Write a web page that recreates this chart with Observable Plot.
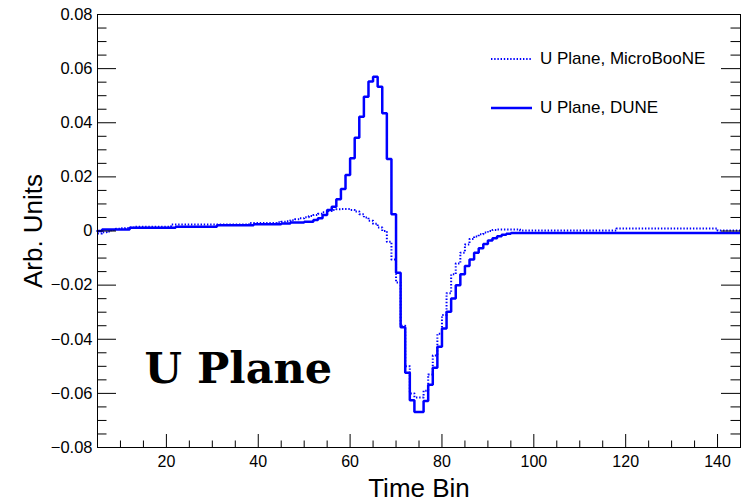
<!DOCTYPE html>
<html>
<head>
<meta charset="utf-8">
<script src="https://cdn.jsdelivr.net/npm/d3@7"></script>
<script src="https://cdn.jsdelivr.net/npm/@observablehq/plot@0.6"></script>
<style>
  html, body { margin: 0; padding: 0; background: #fff; }
  #wrap { position: relative; width: 741px; height: 502px; overflow: hidden; background: #fff;
          font-family: "Liberation Sans", Arial, Helvetica, sans-serif; }
  #wrap svg { display: block; }
  .leg { position: absolute; left: 491px; height: 28px; display: flex; align-items: center;
         font-size: 17px; color: #000; white-space: nowrap; }
  .leg svg { margin-right: 8px; }
</style>
</head>
<body>
<div id="wrap"></div>
<script>
// ---- data (bin contents, first bin = 5, unit-width bins) ----
const firstBin = 5;
const lastEdge = 145;

const duneLabel = "U Plane, DUNE";
const microLabel = "U Plane, MicroBooNE";

// U Plane, DUNE (solid) bins 5..144
const dune = [
  0.0000, 0.0006, 0.0006, 0.0006, 0.0006, 0.0006, 0.0006, 0.0012, 0.0012, 0.0012,   // 5-14
  0.0012, 0.0012, 0.0012, 0.0012, 0.0012, 0.0012, 0.0012, 0.0016, 0.0016, 0.0016,   // 15-24
  0.0016, 0.0016, 0.0016, 0.0016, 0.0016, 0.0016, 0.0021, 0.0021, 0.0021, 0.0021,   // 25-34
  0.0021, 0.0021, 0.0021, 0.0021, 0.0025, 0.0025, 0.0025, 0.0025, 0.0025, 0.0025,   // 35-44
  0.0028, 0.0028, 0.0031, 0.0031, 0.0031, 0.0034, 0.0034, 0.0041, 0.0047, 0.0059,   // 45-54
  0.0078, 0.0090, 0.0117, 0.0155, 0.0207, 0.0269, 0.0345, 0.0422, 0.0496, 0.0552,   // 55-64
  0.0570, 0.0533, 0.0435, 0.0266, 0.0062, -0.0154, -0.0356, -0.0524, -0.0625, -0.0669, // 65-74
  -0.0669, -0.0628, -0.0568, -0.0505, -0.0428, -0.0360, -0.0298, -0.0249, -0.0200, -0.0160, // 75-84
  -0.0129, -0.0105, -0.0080, -0.0064, -0.0048, -0.0035, -0.0027, -0.0019, -0.0014, -0.0010, // 85-94
  -0.0007, -0.0007, -0.0007, -0.0007, -0.0007, -0.0007, -0.0007, -0.0007, -0.0007, -0.0007, // 95-104
  -0.0007, -0.0007, -0.0007, -0.0007, -0.0007, -0.0007, -0.0007, -0.0007, -0.0007, -0.0007, // 105-114
  -0.0007, -0.0007, -0.0007, -0.0007, -0.0007, -0.0007, -0.0007, -0.0007, -0.0007, -0.0007, // 115-124
  -0.0007, -0.0007, -0.0007, -0.0007, -0.0007, -0.0007, -0.0007, -0.0007, -0.0007, -0.0007, // 125-134
  -0.0007, -0.0007, -0.0007, -0.0007, -0.0007, -0.0007, -0.0007, -0.0007, -0.0007, -0.0007  // 135-144
];

// U Plane, MicroBooNE (dotted) bins 5..144
const microboone = [
  -0.0009, -0.0005, -0.0002, 0.0004, 0.0008, 0.0010, 0.0011, 0.0013, 0.0016, 0.0016,  // 5-14
  0.0016, 0.0016, 0.0016, 0.0016, 0.0016, 0.0016, 0.0024, 0.0024, 0.0024, 0.0024,     // 15-24
  0.0024, 0.0024, 0.0024, 0.0024, 0.0024, 0.0024, 0.0024, 0.0024, 0.0024, 0.0024,     // 25-34
  0.0024, 0.0024, 0.0024, 0.0030, 0.0030, 0.0030, 0.0030, 0.0030, 0.0030, 0.0032,     // 35-44
  0.0034, 0.0036, 0.0040, 0.0043, 0.0047, 0.0051, 0.0055, 0.0059, 0.0064, 0.0069,     // 45-54
  0.0074, 0.0078, 0.0080, 0.0081, 0.0081, 0.0078, 0.0072, 0.0062, 0.0050, 0.0038,     // 55-64
  0.0027, 0.0013, 0.0000, -0.0040, -0.0105, -0.0190, -0.0350, -0.0500, -0.0600, -0.0615, // 65-74
  -0.0615, -0.0590, -0.0530, -0.0460, -0.0380, -0.0310, -0.0230, -0.0160, -0.0120, -0.0080, // 75-84
  -0.0050, -0.0030, -0.0020, -0.0012, -0.0006, 0.0000, 0.0004, 0.0006, 0.0006, 0.0006,  // 85-94
  0.0006, 0.0006, 0.0002, 0.0002, 0.0002, 0.0002, 0.0002, 0.0002, 0.0002, 0.0002,     // 95-104
  0.0002, 0.0002, 0.0002, 0.0002, 0.0002, 0.0002, 0.0002, 0.0002, 0.0002, 0.0002,     // 105-114
  0.0002, 0.0002, 0.0002, 0.0009, 0.0009, 0.0009, 0.0009, 0.0009, 0.0009, 0.0009,     // 115-124
  0.0009, 0.0009, 0.0009, 0.0009, 0.0009, 0.0009, 0.0009, 0.0009, 0.0009, 0.0009,     // 125-134
  0.0009, 0.0009, 0.0009, 0.0009, 0.0009, 0.0002, 0.0002, 0.0002, 0.0002, 0.0002      // 135-144
];

// axis ticks and labels
const xMajor = [20, 40, 60, 80, 100, 120, 140];
const xTickLabels = ["20", "40", "60", "80", "100", "120", "140"];
const xMinor = [10, 15, 25, 30, 35, 45, 50, 55, 65, 70, 75, 85, 90, 95, 105, 110, 115, 125, 130, 135];
const yMajor = [-0.08, -0.06, -0.04, -0.02, 0, 0.02, 0.04, 0.06, 0.08];
const yTickLabels = ["\u22120.08", "\u22120.06", "\u22120.04", "\u22120.02", "0", "0.02", "0.04", "0.06", "0.08"];
const yMinor = [-0.075, -0.07, -0.065, -0.055, -0.05, -0.045, -0.035, -0.03, -0.025, -0.015, -0.01, -0.005,
                0.005, 0.01, 0.015, 0.025, 0.03, 0.035, 0.045, 0.05, 0.055, 0.065, 0.07, 0.075];

const xTitle = "Time Bin";
const yTitle = "Arb. Units";
const panelText = "U Plane";

// ---- build histogram step tables ----
function steps(vals) {
  const pts = vals.map((v, i) => ({ bin: firstBin + i, v }));
  pts.push({ bin: lastEdge, v: vals[vals.length - 1] });
  return pts;
}
const duneSteps = steps(dune);
const microSteps = steps(microboone);

// ---- layout ----
const W = 741, H = 502;
const mL = 97, mR = 1, mT = 14, mB = 55;
const frameW = W - mL - mR, frameH = H - mT - mB;
const yTickLen = 19, yMinorLen = 9.5, xTickLen = 13, xMinorLen = 6.5;
const blue = "#0000ff";

const chart = Plot.plot({
  width: W, height: H,
  marginLeft: mL, marginRight: mR, marginTop: mT, marginBottom: mB,
  x: { domain: [firstBin, lastEdge] },
  y: { domain: [-0.08, 0.08] },
  style: { fontFamily: "'Liberation Sans', Arial, Helvetica, sans-serif", fontSize: "16px", background: "white", color: "black", overflow: "visible" },
  marks: [
    Plot.line(microSteps, { x: "bin", y: "v", curve: "step-after", stroke: blue, strokeWidth: 2, strokeDasharray: "1.4,1.8", strokeLinecap: "butt" }),
    Plot.line(duneSteps, { x: "bin", y: "v", curve: "step-after", stroke: blue, strokeWidth: 2.5, strokeLinejoin: "miter" }),
    Plot.frame({ stroke: "black", strokeWidth: 1 }),
    // inward ticks, left and right
    Plot.tickY(yMajor, { y: d => d, insetRight: frameW - yTickLen, stroke: "black" }),
    Plot.tickY(yMinor, { y: d => d, insetRight: frameW - yMinorLen, stroke: "black" }),
    Plot.tickY(yMajor, { y: d => d, insetLeft: frameW - yTickLen, stroke: "black" }),
    Plot.tickY(yMinor, { y: d => d, insetLeft: frameW - yMinorLen, stroke: "black" }),
    // inward ticks, bottom
    Plot.tickX(xMajor, { x: d => d, insetTop: frameH - xTickLen, stroke: "black" }),
    Plot.tickX(xMinor, { x: d => d, insetTop: frameH - xMinorLen, stroke: "black" }),
    Plot.axisY({ ticks: yMajor, tickSize: 0, tickPadding: 5, label: null,
                 tickFormat: d => yTickLabels[yMajor.indexOf(d)], fontSize: 16.5 }),
    Plot.axisX({ ticks: xMajor, tickSize: 0, tickPadding: 8, label: null,
                 tickFormat: d => xTickLabels[xMajor.indexOf(d)], fontSize: 16 }),
    Plot.text([yTitle], { text: d => d, frameAnchor: "left", rotate: -90, dx: -64, fontSize: 26,
                          textAnchor: "middle", lineAnchor: "middle" }),
    Plot.text([xTitle], { text: d => d, frameAnchor: "bottom", dy: 41, fontSize: 26,
                          textAnchor: "middle", lineAnchor: "middle" }),
    Plot.text([panelText], { text: d => d, frameAnchor: "top-left", dx: 47, dy: 368, fontSize: 43,
                             fontWeight: "bold", fontFamily: "'DejaVu Serif', serif",
                             textAnchor: "start", lineAnchor: "bottom" })
  ]
});

const wrap = document.getElementById("wrap");
wrap.appendChild(chart);

// legend (inside frame, top right)
function legendRow(label, dashed, top) {
  const row = document.createElement("div");
  row.className = "leg";
  row.style.top = top + "px";
  const ns = "http://www.w3.org/2000/svg";
  const s = document.createElementNS(ns, "svg");
  s.setAttribute("width", 41); s.setAttribute("height", 6);
  const ln = document.createElementNS(ns, "line");
  ln.setAttribute("x1", 0); ln.setAttribute("x2", 41);
  ln.setAttribute("y1", 3); ln.setAttribute("y2", 3);
  ln.setAttribute("stroke", blue);
  ln.setAttribute("stroke-width", dashed ? 2 : 2.5);
  if (dashed) ln.setAttribute("stroke-dasharray", "1.4,1.8");
  s.appendChild(ln);
  row.appendChild(s);
  const t = document.createElement("span");
  t.textContent = label;
  row.appendChild(t);
  wrap.appendChild(row);
}
legendRow(microLabel, true, 45);
legendRow(duneLabel, false, 94);
</script>
</body>
</html>
